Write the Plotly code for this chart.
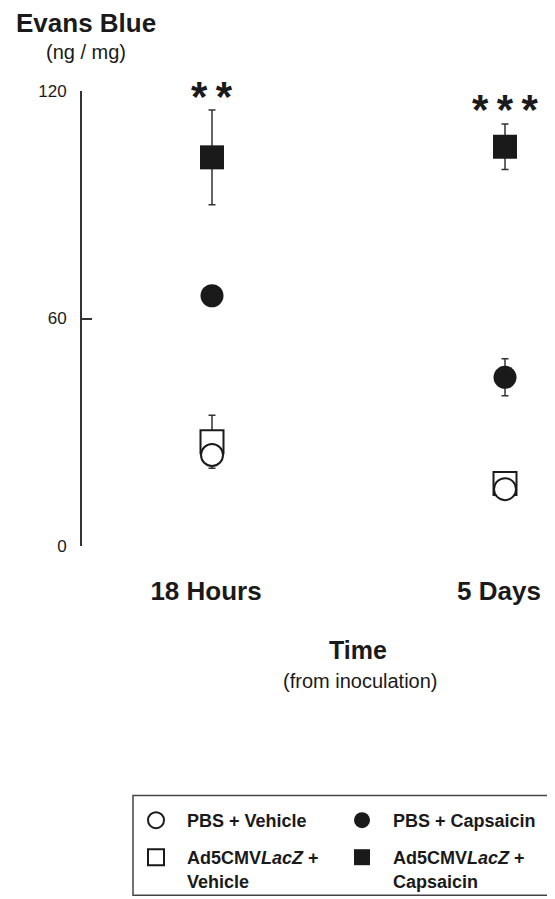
import plotly.graph_objects as go

# ---- data ----
times = ["18 Hours", "5 Days"]
x_pos = [0, 1]
pbs_vehicle = [24, 15]
pbs_vehicle_err = [2, 1.5]
pbs_capsaicin = [66, 44.5]
pbs_capsaicin_err = [2, 4.9]
lacz_vehicle = [27.5, 16.5]
lacz_vehicle_err = [7, 2]
lacz_capsaicin = [102.5, 105.3]
lacz_capsaicin_err = [12.5, 6]
signif = ["*\u2009*", "*\u2009*\u2009*"]
signif_y = [118.5, 115.0]
y_ticks = [0, 60, 120]

FONT = "Liberation Sans, Arial, Helvetica, sans-serif"
INK = "#1a1a1a"
AX = "#333333"

# The page body has an 8px margin, so the figure is drawn 8px in from the
# window's top-left corner; geometry below is given in window pixels.
OFF = 8
FW, FH = 555 - OFF, 899 - OFF
T, B, L = 91 - OFF, 547 - OFF, 82 - OFF
PH = B - T
PW = FW - L


def py(Y):
    return (B - (Y - OFF)) / PH


def px(X):
    return ((X - OFF) - L) / PW


def err(vals):
    return dict(type="data", array=vals, visible=True, color=AX, thickness=1.5, width=3.5)


fig = go.Figure()
fig.add_trace(go.Scatter(
    x=x_pos, y=lacz_vehicle, mode="markers", error_y=err(lacz_vehicle_err),
    name="Ad5CMV<i>LacZ</i> +<br>Vehicle", legend="legend2", legendrank=1,
    marker=dict(symbol="square", size=23, color="white", line=dict(color=INK, width=2)),
    cliponaxis=False))
fig.add_trace(go.Scatter(
    x=x_pos, y=pbs_vehicle, mode="markers", error_y=err(pbs_vehicle_err),
    name="PBS + Vehicle", legend="legend", legendrank=1,
    marker=dict(symbol="circle", size=22, color="white", line=dict(color=INK, width=2)),
    cliponaxis=False))
fig.add_trace(go.Scatter(
    x=x_pos, y=pbs_capsaicin, mode="markers", error_y=err(pbs_capsaicin_err),
    name="PBS + Capsaicin", legend="legend", legendrank=2,
    marker=dict(symbol="circle", size=23, color=INK, line=dict(color=INK, width=0)),
    cliponaxis=False))
fig.add_trace(go.Scatter(
    x=x_pos, y=lacz_capsaicin, mode="markers", error_y=err(lacz_capsaicin_err),
    name="Ad5CMV<i>LacZ</i> +<br>Capsaicin", legend="legend2", legendrank=2,
    marker=dict(symbol="square", size=24, color=INK, line=dict(color=INK, width=0)),
    cliponaxis=False))

for xp, s, yy in zip(x_pos, signif, signif_y):
    fig.add_annotation(x=xp, y=yy, text="<b>%s</b>" % s, showarrow=False,
                       font=dict(size=42, color=INK, family=FONT), yanchor="middle")

# axis titles as text
fig.add_annotation(xref="paper", yref="paper", x=px(14), y=py(23), xanchor="left", yanchor="middle",
                   text="<b>Evans Blue</b>", showarrow=False,
                   font=dict(size=26, color=INK, family=FONT))
fig.add_annotation(xref="paper", yref="paper", x=px(44), y=py(52), xanchor="left", yanchor="middle",
                   text="(ng / mg)", showarrow=False,
                   font=dict(size=20, color=INK, family=FONT))
fig.add_annotation(xref="paper", yref="paper", x=px(358), y=py(651), xanchor="center", yanchor="middle",
                   text="<b>Time</b>", showarrow=False,
                   font=dict(size=25, color=INK, family=FONT))
fig.add_annotation(xref="paper", yref="paper", x=px(360), y=py(682), xanchor="center", yanchor="middle",
                   text="(from inoculation)", showarrow=False,
                   font=dict(size=20, color=INK, family=FONT))

# legend frame
fig.add_shape(type="rect", xref="paper", yref="paper",
              x0=px(133), x1=px(552), y0=py(897), y1=py(797),
              line=dict(color="#444444", width=1.5), fillcolor="rgba(0,0,0,0)", layer="below")

leg_common = dict(
    orientation="h", xanchor="left", yanchor="top",
    bgcolor="rgba(0,0,0,0)", borderwidth=0,
    font=dict(size=18, color=INK, family=FONT, weight="bold"),
    itemsizing="trace", itemwidth=52, entrywidthmode="pixels", entrywidth=139,
    valign="top",
)

fig.update_layout(
    width=FW, height=FH,
    margin=dict(l=L, r=0, t=T, b=FH - B),
    paper_bgcolor="white", plot_bgcolor="white",
    font=dict(family=FONT, color=INK),
    showlegend=True,
    legend=dict(x=px(125), y=py(802), **leg_common),
    legend2=dict(x=px(125), y=py(841), **leg_common),
    xaxis=dict(
        range=[-0.4437, 1.1706], tickvals=x_pos, ticktext=["<b>%s</b>" % t for t in times],
        showline=False, showgrid=False, zeroline=False, ticks="",
        ticklabelstandoff=27, ticklabelshift=-6,
        tickfont=dict(size=26, color=INK, family=FONT),
    ),
    yaxis=dict(
        range=[0, 120], tickvals=y_ticks, ticktext=[str(v) for v in y_ticks],
        showline=True, linecolor=AX, linewidth=2, mirror=False,
        ticks="inside", ticklen=10, tickwidth=2, tickcolor=AX,
        showgrid=False, zeroline=False,
        tickfont=dict(size=17, color=INK, family=FONT),
        ticklabelstandoff=10,
    ),
)

fig.write_html("out.html")
